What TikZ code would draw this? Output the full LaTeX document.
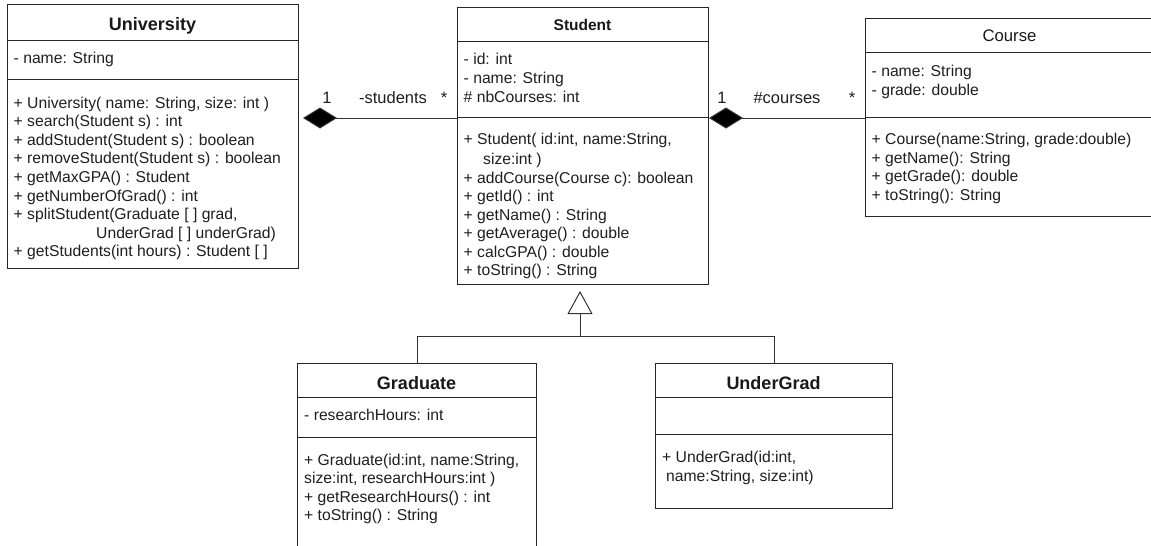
\documentclass[tikz,border=0pt]{standalone}
\usepackage{fontspec}
\setmainfont{Liberation Sans}
\usetikzlibrary{arrows.meta}
\tikzset{
  cls/.style={draw=black!85, line width=1pt, fill=white, inner sep=0pt, anchor=north west},
  sepline/.style={draw=black!85, line width=1pt},
  txt/.style={inner sep=0pt, anchor=base west, text=black!88, font=\fontsize{15.7}{18.5}\selectfont},
  ttl/.style={inner sep=0pt, anchor=base, text=black!90, font=\fontsize{18}{20}\selectfont\bfseries},
  mult/.style={inner sep=0pt, anchor=base, text=black!88, font=\fontsize{16.5}{19}\selectfont},
  comp/.style={draw=black!80, line width=1pt, -{Diamond[length=34pt,width=21pt,fill=black]}},
  genline/.style={draw=black!80, line width=1pt},
  gen/.style={draw=black!80, line width=1pt, -{Triangle[open,length=23pt,width=25pt,fill=white]}},
}
\begin{document}
\begin{tikzpicture}[x=1pt,y=-1pt]
\useasboundingbox (0,0) rectangle (1151,546);
\clip (0,0) rectangle (1151,546);
\fill[white] (0,0) rectangle (1151,546);

% ---------- University ----------
\node[cls, minimum width=291, minimum height=264] (uni) at (7,4) {};
\draw[sepline] (7,40) -- (298,40);
\draw[sepline] (7,79) -- (298,79);
\node[ttl] (uT) at (152.5,30.5) {University};
\node[txt] (uA1) at (13.5,63.5) {- name: String};
\node[txt] (uM1) at (13.5,108.3) {+ University( name: String, size: int )};
\node[txt] (uM2) at (13.5,126.85) {+ search(Student s) : int};
\node[txt] (uM3) at (13.5,145.4) {+ addStudent(Student s) : boolean};
\node[txt] (uM4) at (13.5,163.95) {+ removeStudent(Student s) : boolean};
\node[txt] (uM5) at (13.5,182.5) {+ getMaxGPA() : Student};
\node[txt] (uM6) at (13.5,201.05) {+ getNumberOfGrad() : int};
\node[txt] (uM7) at (13.5,219.6) {+ splitStudent(Graduate [ ] grad,};
\node[txt] (uM8) at (96,238.15) {UnderGrad [ ] underGrad)};
\node[txt] (uM9) at (13.5,256.7) {+ getStudents(int hours) : Student [ ]};

% ---------- Student ----------
\node[cls, minimum width=251, minimum height=277] (stu) at (457,7) {};
\draw[sepline] (457,41) -- (708,41);
\draw[sepline] (457,117) -- (708,117);
\node[ttl, font=\fontsize{15.5}{18}\selectfont\bfseries] (sT) at (582.5,30) {Student};
\node[txt] (sA1) at (463.5,64) {- id: int};
\node[txt] (sA2) at (463.5,83) {- name: String};
\node[txt] (sA3) at (463.5,102) {\# nbCourses: int};
\node[txt] (sM1) at (463.5,144) {+ Student( id:int, name:String,};
\node[txt] (sM2) at (483,164.5) {size:int )};
\node[txt] (sM3) at (463.5,183) {+ addCourse(Course c): boolean};
\node[txt] (sM4) at (463.5,201.5) {+ getId() : int};
\node[txt] (sM5) at (463.5,220) {+ getName() : String};
\node[txt] (sM6) at (463.5,238.5) {+ getAverage() : double};
\node[txt] (sM7) at (463.5,257) {+ calcGPA() : double};
\node[txt] (sM8) at (463.5,275.5) {+ toString() : String};

% ---------- Course ----------
\node[cls, minimum width=289, minimum height=198] (crs) at (865,18) {};
\draw[sepline] (865,52) -- (1154,52);
\draw[sepline] (865,117) -- (1154,117);
\node[ttl, font=\fontsize{16.7}{19}\selectfont] (cT) at (1009.5,41.7) {Course};
\node[txt] (cA1) at (871.5,76) {- name: String};
\node[txt] (cA2) at (871.5,95) {- grade: double};
\node[txt] (cM1) at (871.5,144.5) {+ Course(name:String, grade:double)};
\node[txt] (cM2) at (871.5,163) {+ getName(): String};
\node[txt] (cM3) at (871.5,181.5) {+ getGrade(): double};
\node[txt] (cM4) at (871.5,200) {+ toString(): String};

% ---------- Graduate ----------
\node[cls, minimum width=239, minimum height=200] (grd) at (297,363) {};
\draw[sepline] (297,397) -- (536,397);
\draw[sepline] (297,437) -- (536,437);
\node[ttl] (gT) at (416.5,389) {Graduate};
\node[txt] (gA1) at (304,420.7) {- researchHours: int};
\node[txt] (gM1) at (304,465) {+ Graduate(id:int, name:String,};
\node[txt] (gM2) at (304,483.5) {size:int, researchHours:int )};
\node[txt] (gM3) at (304,502) {+ getResearchHours() : int};
\node[txt] (gM4) at (304,520.5) {+ toString() : String};

% ---------- UnderGrad ----------
\node[cls, minimum width=237, minimum height=145] (ug) at (655,363) {};
\draw[sepline] (655,397) -- (892,397);
\draw[sepline] (655,434) -- (892,434);
\node[ttl] (ugT) at (773.5,389) {UnderGrad};
\node[txt] (ugM1) at (662,462.5) {+ UnderGrad(id:int,};
\node[txt] (ugM2) at (666,481) {name:String, size:int)};

% ---------- Compositions ----------
\coordinate (cY) at (0,118);
\draw[comp, shorten >=4pt] (stu.west |- cY) -- (uni.east |- cY);
\draw[comp] (crs.west |- cY) -- (stu.east |- cY);
\node[mult] (m1) at (327,103) {1};
\node[mult] (m2) at (393,103) {-students};
\node[mult] (m3) at (444,103) {*};
\node[mult] (m4) at (722,103) {1};
\node[mult] (m5) at (787,103) {\#courses};
\node[mult] (m6) at (852,103) {*};

% ---------- Generalization ----------
\coordinate (gJ) at (580,336);
\draw[genline] (grd.north) |- (gJ);
\draw[genline] (ug.north) |- (gJ);
\draw[gen, shorten >=6pt] (gJ) -- (gJ |- stu.south);
\end{tikzpicture}
\end{document}
